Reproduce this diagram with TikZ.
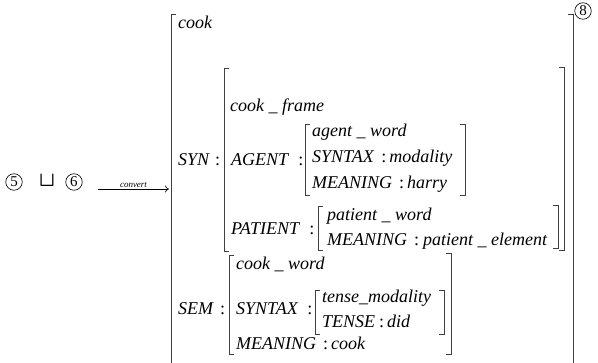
\documentclass[tikz,border=0pt]{standalone}
\usepackage{fontspec}
\setmainfont{Liberation Serif}
\usetikzlibrary{arrows.meta}
\newcommand\cl{\textup{:}}
\newcommand\us{\hspace{4.5pt}\_\hspace{4.5pt}}

\begin{document}
\begin{tikzpicture}[x=1pt, y=-1pt,
  fs/.style={anchor=base west, inner sep=0pt, font=\fontsize{18}{18}\selectfont\itshape},
  circ/.style={circle, draw, line width=0.6pt, inner sep=0pt, minimum size=16.5pt, font=\fontsize{15}{15}\selectfont},
  brk/.style={line width=0.8pt, black!75},
  conv/.style={-{To[length=4pt,width=7pt]}, line width=0.6pt}
]
\useasboundingbox (0,0) rectangle (598,363);

% left hand side
\node[circ] (n5) at (14,182) {5};
\node[inner sep=0pt, font=\fontsize{20}{20}\selectfont\boldmath] (join) at (47,181) {$\sqcup$};
\node[circ] (n6) at (74,182) {6};
\coordinate (cs) at (98,189);
\coordinate (ce) at (169,189);
\draw[conv] (cs) -- node[above=1.5pt, inner sep=0pt, font=\fontsize{9}{9}\selectfont\itshape] (convert) {convert} (ce);

% outer structure
\node[circ] (n8) at (583,11) {8};
\draw[brk] (176,14) -- (171,14) -- (171,363);
\draw[brk] (568,14) -- (573,14) -- (573,363);
\node[fs] (cook) at (178,29) {cook};

% SYN
\node[fs] (syn) at (178,166) {SYN\hspace{5pt}\cl};
\draw[brk] (229,68) -- (224,68) -- (224,251) -- (229,251);
\draw[brk] (559,67) -- (564,67) -- (564,250) -- (559,250);
\node[fs] (frame) at (230,112) {cook\us frame};
\node[fs] (agent) at (231,166) {AGENT\hspace{9pt}\cl};
\draw[brk] (310,124) -- (305,124) -- (305,195) -- (310,195);
\draw[brk] (460,124) -- (465,124) -- (465,195) -- (460,195);
\node[fs] (aword) at (312,137) {agent\us word};
\node[fs] (asyn) at (312,163) {SYNTAX\hspace{7pt}\cl\,modality};
\node[fs] (amean) at (312,189) {MEANING\hspace{7pt}\cl\,harry};
\node[fs] (patient) at (231,235) {PATIENT\hspace{9pt}\cl};
\draw[brk] (323,206) -- (318,206) -- (318,250) -- (323,250);
\draw[brk] (553,205) -- (558,205) -- (558,248) -- (553,248);
\node[fs] (pword) at (327,221) {patient\us word};
\node[fs] (pmean) at (327,246) {MEANING\hspace{7pt}\cl\hspace{4pt}patient\us element};

% SEM
\node[fs] (sem) at (178,315) {SEM\hspace{6pt}\cl};
\draw[brk] (234,255) -- (229,255) -- (229,354) -- (234,354);
\draw[brk] (446,253) -- (451,253) -- (451,354) -- (446,354);
\node[fs] (cword) at (236,270) {cook\us word};
\node[fs] (ssyn) at (236,315) {SYNTAX\hspace{9pt}\cl};
\draw[brk] (320,290) -- (315,290) -- (315,334) -- (320,334);
\draw[brk] (439,290) -- (444,290) -- (444,334) -- (439,334);
\node[fs] (tmod) at (322,303) {tense\_modality};
\node[fs] (tense) at (322,328) {TENSE\hspace{4pt}\cl\,did};
\node[fs] (smean) at (236,350) {MEANING\hspace{7pt}\cl\,cook};
\end{tikzpicture}
\end{document}
